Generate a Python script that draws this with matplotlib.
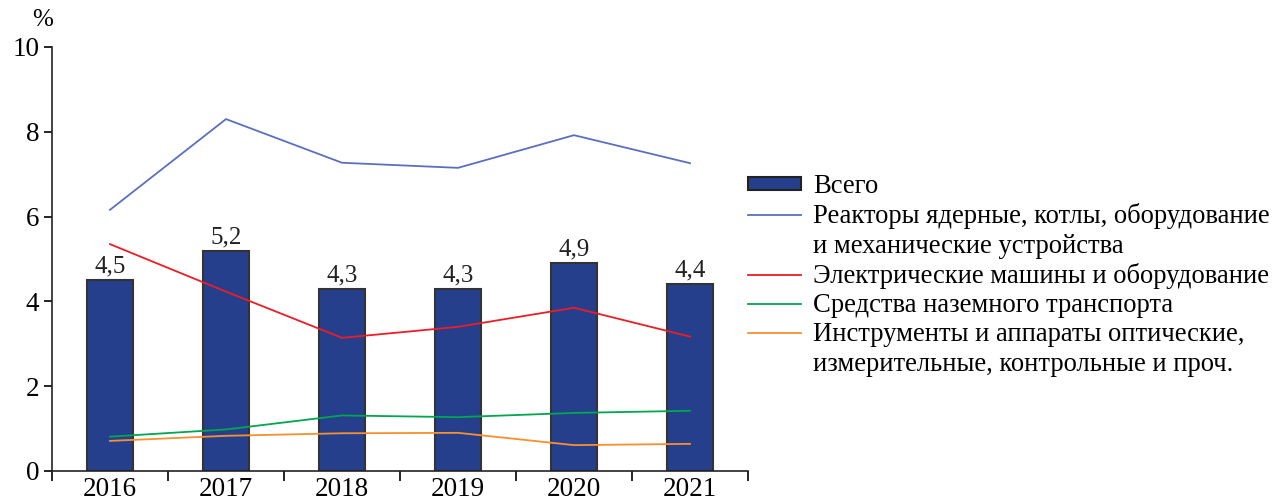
import numpy as np
import matplotlib.pyplot as plt
from matplotlib.patches import Patch
from matplotlib.lines import Line2D

plt.rcParams['font.family'] = ['Liberation Serif', 'DejaVu Serif']

years = ['2016', '2017', '2018', '2019', '2020', '2021']
total = [4.5, 5.2, 4.3, 4.3, 4.9, 4.4]
total_labels = ['4,5', '5,2', '4,3', '4,3', '4,9', '4,4']
reactors = [6.16, 8.30, 7.27, 7.15, 7.92, 7.26]
electric = [5.35, 4.23, 3.14, 3.40, 3.85, 3.17]
transport = [0.81, 0.98, 1.31, 1.27, 1.37, 1.42]
optical = [0.71, 0.83, 0.89, 0.90, 0.61, 0.64]

# legend rows; second lines of long names get an empty handle
names = ['Всего',
         'Реакторы ядерные, котлы, оборудование',
         'и механические устройства',
         'Электрические машины и оборудование',
         'Средства наземного транспорта',
         'Инструменты и аппараты оптические,',
         'измерительные, контрольные и проч.']

bar_color = '#253f8c'
colors = ['#5b6fc0', '#ee1c25', '#00a650', '#f7902f']

fig = plt.figure(figsize=(12.74, 5.04), dpi=100)
ax = fig.add_axes([52 / 1274, 33 / 504, (748 - 52) / 1274, (471 - 47) / 504])

x = np.arange(len(years))
ax.bar(x, total, width=0.4, color=bar_color, edgecolor='#333333', linewidth=1.5, zorder=2)
for xi, v, lab in zip(x, total, total_labels):
    ax.text(xi, v + 0.06, lab, ha='center', va='bottom', fontsize=18, color='#222222')

ax.plot(x, reactors, color=colors[0], lw=1.3, zorder=3)
ax.plot(x, electric, color=colors[1], lw=1.3, zorder=3)
ax.plot(x, transport, color=colors[2], lw=1.3, zorder=3)
ax.plot(x, optical, color=colors[3], lw=1.3, zorder=3)

ax.set_xlim(-0.5, 5.5)
ax.set_ylim(0, 10)
ax.set_yticks([0, 2, 4, 6, 8, 10])
ax.set_xticks(x)
ax.set_xticklabels(years)
ax.set_xticks(np.arange(-0.5, 6.0, 1.0), minor=True)
ax.tick_params(axis='x', which='major', length=0, pad=4, labelsize=19.5)
ax.tick_params(axis='x', which='minor', length=7, width=1.2, direction='out')
ax.tick_params(axis='y', length=6, width=1.2, labelsize=19.5, pad=3)
for s in ['top', 'right']:
    ax.spines[s].set_visible(False)
for s in ['left', 'bottom']:
    ax.spines[s].set_linewidth(1.2)
    ax.spines[s].set_color('#222222')

fig.text(43 / 1274, 1 - 20 / 504, '%', ha='center', va='center', fontsize=18)

blank = Line2D([], [], color='none')
handles = [Patch(facecolor=bar_color, edgecolor='#222222', linewidth=1.5),
           Line2D([], [], color=colors[0], lw=1.3), blank,
           Line2D([], [], color=colors[1], lw=1.3),
           Line2D([], [], color=colors[2], lw=1.3),
           Line2D([], [], color=colors[3], lw=1.3), blank]
fig.legend(handles, names, loc='upper left', bbox_to_anchor=(748 / 1274, 1 - 174 / 504),
           frameon=False, fontsize=19.2, handlelength=2.0, handleheight=0.4,
           handletextpad=0.45, labelspacing=0.16, borderpad=0, borderaxespad=0)

fig.savefig('out.png', dpi=100)
